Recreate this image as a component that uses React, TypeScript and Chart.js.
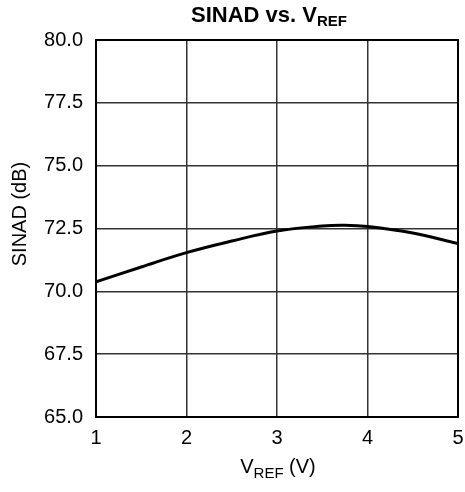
import React, { useEffect, useRef } from "react";
import { Chart, registerables } from "chart.js";

Chart.register(...registerables);

const vref = [1, 1.5, 2, 2.5, 3, 3.5, 3.75, 4, 4.5, 5];
const sinad = [70.38, 70.97, 71.54, 72.0, 72.4, 72.6, 72.63, 72.58, 72.32, 71.9];
const yTicks = [65, 67.5, 70, 72.5, 75, 77.5, 80];
const xTicks = [1, 2, 3, 4, 5];

const FONT = "'Liberation Sans', Arial, sans-serif";

function drawSub(ctx: CanvasRenderingContext2D, parts: { t: string; size: number; bold: boolean; dy: number }[], cx: number, baseY: number) {
  let total = 0;
  const widths = parts.map((p) => {
    ctx.font = `${p.bold ? "bold " : ""}${p.size}px ${FONT}`;
    const w = ctx.measureText(p.t).width;
    total += w;
    return w;
  });
  let x = cx - total / 2;
  parts.forEach((p, i) => {
    ctx.font = `${p.bold ? "bold " : ""}${p.size}px ${FONT}`;
    ctx.fillText(p.t, x, baseY + p.dy);
    x += widths[i];
  });
}

const labelsPlugin = {
  id: "labelsPlugin",
  afterDraw(chart: any) {
    const ctx: CanvasRenderingContext2D = chart.ctx;
    const a = chart.chartArea;
    ctx.save();
    ctx.strokeStyle = "#000";
    ctx.lineWidth = 2;
    ctx.strokeRect(a.left, a.top, a.right - a.left, a.bottom - a.top);
    ctx.fillStyle = "#000";
    ctx.textAlign = "left";
    ctx.textBaseline = "alphabetic";
    drawSub(
      ctx,
      [
        { t: "SINAD vs. V", size: 22, bold: true, dy: 0 },
        { t: "REF", size: 15, bold: true, dy: 4 },
      ],
      269,
      22
    );
    drawSub(
      ctx,
      [
        { t: "V", size: 20, bold: false, dy: 0 },
        { t: "REF", size: 15, bold: false, dy: 5 },
        { t: " (V)", size: 20, bold: false, dy: 0 },
      ],
      278,
      473
    );
    ctx.translate(26, 214);
    ctx.rotate(-Math.PI / 2);
    ctx.textAlign = "center";
    ctx.font = `20px ${FONT}`;
    ctx.fillText("SINAD (dB)", 0, 0);
    ctx.restore();
  },
};

export default function App() {
  const ref = useRef<HTMLCanvasElement | null>(null);
  useEffect(() => {
    if (!ref.current) return;
    const chart = new Chart(ref.current, {
      type: "line",
      data: {
        datasets: [
          {
            data: vref.map((x, i) => ({ x, y: sinad[i] })),
            borderColor: "#000",
            borderWidth: 3,
            pointRadius: 0,
            tension: 0.4,
            fill: false,
          },
        ],
      },
      options: {
        animation: false,
        responsive: false,
        devicePixelRatio: 1,
        layout: { padding: { top: 40, right: 7, bottom: 0, left: 0 } },
        plugins: { legend: { display: false }, title: { display: false }, tooltip: { enabled: false } },
        scales: {
          x: {
            type: "linear",
            min: 1,
            max: 5,
            afterBuildTicks: (s: any) => {
              s.ticks = xTicks.map((v) => ({ value: v }));
            },
            afterFit: (s: any) => {
              s.height = 75;
              s.paddingLeft = 0;
              s.paddingRight = 0;
            },
            ticks: {
              color: "#000",
              font: { family: FONT, size: 20 },
              padding: 9,
              maxRotation: 0,
              callback: (v: any) => String(v),
            },
            grid: { color: "#333", lineWidth: 1.5, drawTicks: false },
            border: { display: false },
          },
          y: {
            type: "linear",
            min: 65,
            max: 80,
            afterBuildTicks: (s: any) => {
              s.ticks = yTicks.map((v) => ({ value: v }));
            },
            afterFit: (s: any) => {
              s.width = 96;
              s.paddingTop = 0;
              s.paddingBottom = 0;
            },
            ticks: {
              color: "#000",
              font: { family: FONT, size: 20 },
              padding: 13,
              callback: (v: any) => Number(v).toFixed(1),
            },
            grid: { color: "#333", lineWidth: 1.5, drawTicks: false },
            border: { display: false },
          },
        },
      },
      plugins: [labelsPlugin],
    });
    return () => chart.destroy();
  }, []);
  return (
    <div style={{ position: "absolute", left: 0, top: 0, width: 465, height: 492, background: "#fff" }}>
      <canvas ref={ref} width={465} height={492} />
    </div>
  );
}
